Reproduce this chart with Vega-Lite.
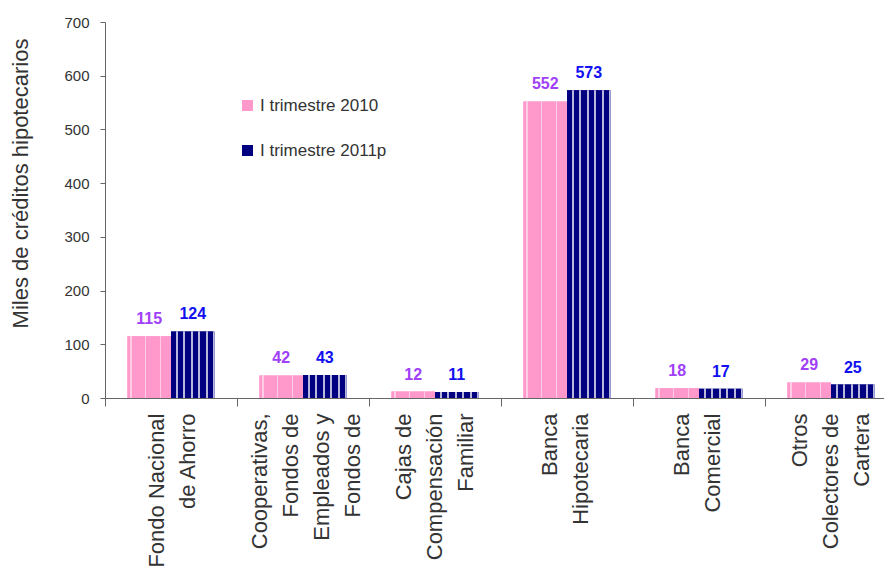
{
  "$schema": "https://vega.github.io/schema/vega-lite/v6.json",
  "autosize": {"type": "none"},
  "padding": {"left": 105, "top": 22, "right": 0, "bottom": 171},
  "width": 779,
  "height": 376,
  "background": "white",
  "config": {
    "font": "Liberation Sans",
    "view": {"stroke": null},
    "axis": {"grid": false, "domainColor": "#666", "tickColor": "#666", "labelColor": "#333", "titleColor": "#333", "labelFont": "Liberation Sans", "titleFont": "Liberation Sans"},
    "legend": {"padding": 0}
  },
  "data": {
    "values": [
      {"categoria": "Fondo Nacional de Ahorro", "serie": "I trimestre 2010", "valor": 115},
      {"categoria": "Fondo Nacional de Ahorro", "serie": "I trimestre 2011p", "valor": 124},
      {"categoria": "Cooperativas, Fondos de Empleados y Fondos de", "serie": "I trimestre 2010", "valor": 42},
      {"categoria": "Cooperativas, Fondos de Empleados y Fondos de", "serie": "I trimestre 2011p", "valor": 43},
      {"categoria": "Cajas de Compensación Familiar", "serie": "I trimestre 2010", "valor": 12},
      {"categoria": "Cajas de Compensación Familiar", "serie": "I trimestre 2011p", "valor": 11},
      {"categoria": "Banca Hipotecaria", "serie": "I trimestre 2010", "valor": 552},
      {"categoria": "Banca Hipotecaria", "serie": "I trimestre 2011p", "valor": 573},
      {"categoria": "Banca Comercial", "serie": "I trimestre 2010", "valor": 18},
      {"categoria": "Banca Comercial", "serie": "I trimestre 2011p", "valor": 17},
      {"categoria": "Otros Colectores de Cartera", "serie": "I trimestre 2010", "valor": 29},
      {"categoria": "Otros Colectores de Cartera", "serie": "I trimestre 2011p", "valor": 25}
    ]
  },
  "encoding": {
    "x": {
      "field": "categoria", "type": "nominal", "sort": null,
      "scale": {"range": [0, 792], "paddingInner": 0.34, "paddingOuter": 0.17},
      "axis": {
        "title": null,
        "tickOffset": -66,
        "labelAngle": -90,
        "labelAlign": "right",
        "labelBaseline": "middle",
        "labelFontSize": 22,
        "labelLineHeight": 31,
        "labelPadding": 7,
        "labelLimit": 0,
        "labelOverlap": false,
        "labelBound": false,
        "labelOffset": {
          "condition": [
            {"test": "datum.value == 'Cooperativas, Fondos de Empleados y Fondos de'", "value": 22},
            {"test": "datum.value == 'Cajas de Compensación Familiar' || datum.value == 'Otros Colectores de Cartera'", "value": 34},
            {"test": "datum.value == 'Fondo Nacional de Ahorro'", "value": 51}
          ],
          "value": 48
        },
        "tickSize": 8,
        "labelExpr": "datum.value == 'Fondo Nacional de Ahorro' ? ['Fondo Nacional', 'de Ahorro\u00a0\u00a0\u00a0\u00a0\u00a0'] : datum.value == 'Cooperativas, Fondos de Empleados y Fondos de' ? ['Cooperativas,', 'Fondos de\u00a0\u00a0\u00a0', 'Empleados y\u00a0', 'Fondos de\u00a0\u00a0\u00a0'] : datum.value == 'Cajas de Compensación Familiar' ? ['Cajas de\u00a0\u00a0\u00a0\u00a0\u00a0', 'Compensación', 'Familiar\u00a0\u00a0\u00a0\u00a0\u00a0\u00a0'] : datum.value == 'Banca Hipotecaria' ? ['Banca\u00a0\u00a0\u00a0\u00a0', 'Hipotecaria'] : datum.value == 'Banca Comercial' ? ['Banca\u00a0\u00a0\u00a0', 'Comercial'] : ['Otros\u00a0\u00a0\u00a0\u00a0\u00a0\u00a0\u00a0', 'Colectores de', 'Cartera\u00a0\u00a0\u00a0\u00a0\u00a0']"
      }
    },
    "xOffset": {"field": "serie", "type": "nominal", "scale": {"paddingInner": 0, "paddingOuter": 0}},
    "y": {
      "field": "valor", "type": "quantitative",
      "scale": {"domain": [0, 700]},
      "axis": {
        "title": "Miles de créditos hipotecarios",
        "titleFontSize": 22,
        "titleFontWeight": "normal",
        "titleX": -85,
        "titleY": 161,
        "titleAlign": "center",
        "titleBaseline": "middle",
        "titleAngle": -90,
        "values": [0, 100, 200, 300, 400, 500, 600, 700],
        "labelFontSize": 15,
        "labelPadding": 11,
        "tickSize": 5
      }
    }
  },
  "layer": [
    {
      "mark": {"type": "bar"},
      "encoding": {
        "color": {
          "field": "serie", "type": "nominal",
          "scale": {"domain": ["I trimestre 2010", "I trimestre 2011p"], "range": ["#FF99CC", "#000080"]},
          "legend": {
            "title": null,
            "orient": "none",
            "legendX": 134,
            "legendY": 75,
            "symbolType": "square",
            "symbolSize": 121,
            "symbolStrokeWidth": 0,
            "labelFontSize": 17,
            "labelColor": "#333",
            "labelOffset": 4,
            "rowPadding": 27
          }
        }
      }
    },
    {
      "transform": [{"filter": "datum.serie == 'I trimestre 2011p'"}],
      "mark": {
        "type": "bar",
        "color": {
          "gradient": "linear", "x1": 0, "x2": 1, "y1": 0, "y2": 0,
          "stops": [
            {"offset": 0, "color": "#000080"},
            {"offset": 0.115, "color": "#000080"}, {"offset": 0.115, "color": "#B8B8DC"}, {"offset": 0.155, "color": "#B8B8DC"}, {"offset": 0.155, "color": "#000080"},
            {"offset": 0.285, "color": "#000080"}, {"offset": 0.285, "color": "#B8B8DC"}, {"offset": 0.325, "color": "#B8B8DC"}, {"offset": 0.325, "color": "#000080"},
            {"offset": 0.457, "color": "#000080"}, {"offset": 0.457, "color": "#B8B8DC"}, {"offset": 0.497, "color": "#B8B8DC"}, {"offset": 0.497, "color": "#000080"},
            {"offset": 0.628, "color": "#000080"}, {"offset": 0.628, "color": "#B8B8DC"}, {"offset": 0.668, "color": "#B8B8DC"}, {"offset": 0.668, "color": "#000080"},
            {"offset": 0.798, "color": "#000080"}, {"offset": 0.798, "color": "#B8B8DC"}, {"offset": 0.838, "color": "#B8B8DC"}, {"offset": 0.838, "color": "#000080"},
            {"offset": 0.965, "color": "#000080"}, {"offset": 0.965, "color": "#B8B8DC"}, {"offset": 1, "color": "#B8B8DC"}
          ]
        }
      }
    },
    {
      "transform": [{"filter": "datum.serie == 'I trimestre 2010'"}],
      "mark": {
        "type": "bar",
        "color": {
          "gradient": "linear", "x1": 0, "x2": 1, "y1": 0, "y2": 0,
          "stops": [
            {"offset": 0, "color": "#FF99CC"},
            {"offset": 0.07, "color": "#FF99CC"}, {"offset": 0.07, "color": "#FFCCE6"}, {"offset": 0.095, "color": "#FFCCE6"}, {"offset": 0.095, "color": "#FF99CC"},
            {"offset": 0.405, "color": "#FF99CC"}, {"offset": 0.405, "color": "#FFCCE6"}, {"offset": 0.43, "color": "#FFCCE6"}, {"offset": 0.43, "color": "#FF99CC"},
            {"offset": 0.74, "color": "#FF99CC"}, {"offset": 0.74, "color": "#FFCCE6"}, {"offset": 0.765, "color": "#FFCCE6"}, {"offset": 0.765, "color": "#FF99CC"},
            {"offset": 1, "color": "#FF99CC"}
          ]
        }
      }
    },
    {
      "transform": [{"filter": "datum.serie == 'I trimestre 2010'"}],
      "mark": {"type": "text", "color": "#A040F8", "fontWeight": "bold", "fontSize": 16, "baseline": "alphabetic", "dy": -12},
      "encoding": {"text": {"field": "valor", "type": "quantitative"}}
    },
    {
      "transform": [{"filter": "datum.serie == 'I trimestre 2011p'"}],
      "mark": {"type": "text", "color": "#1010F0", "fontWeight": "bold", "fontSize": 16, "baseline": "alphabetic", "dy": -12},
      "encoding": {"text": {"field": "valor", "type": "quantitative"}}
    }
  ]
}
